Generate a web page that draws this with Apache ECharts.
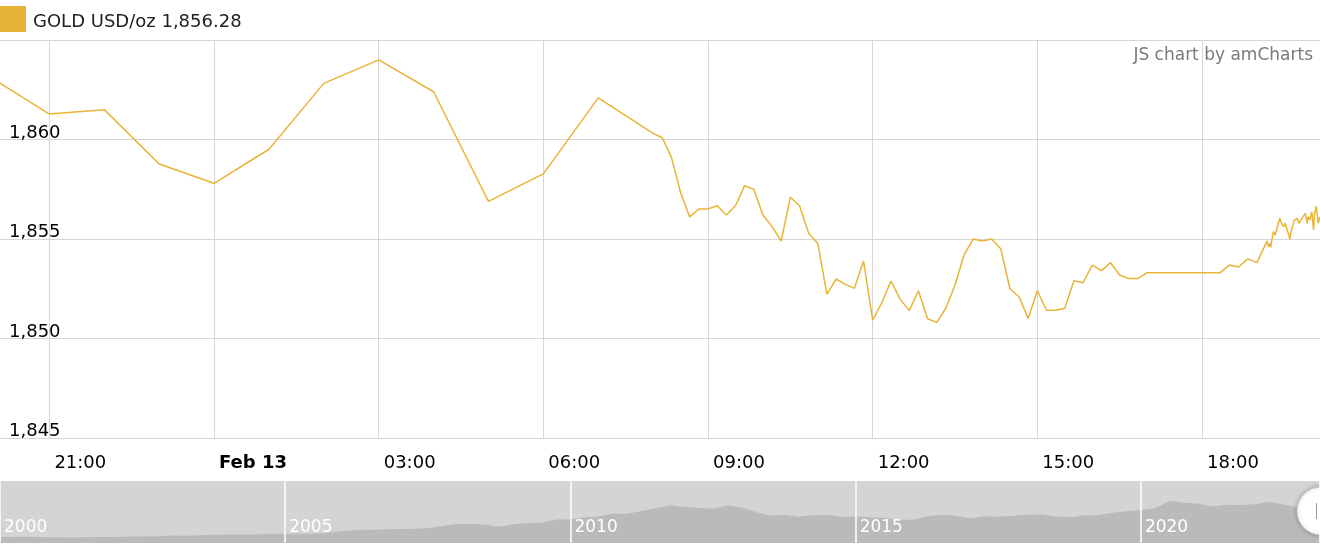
<!DOCTYPE html>
<html><head><meta charset="utf-8">
<script src="https://cdn.jsdelivr.net/npm/echarts@6/dist/echarts.min.js"></script>
<style>html,body{margin:0;padding:0;background:#fff}#c{width:1320px;height:552px}</style>
</head><body><div id="c"></div>
<script>
const seriesName = 'GOLD USD/oz 1,856.28';
const xTickTimes = ['Feb 12 21:00','Feb 13 00:00','Feb 13 03:00','Feb 13 06:00','Feb 13 09:00','Feb 13 12:00','Feb 13 15:00','Feb 13 18:00'];
const xTickLabels = ['21:00','Feb 13','03:00','06:00','09:00','12:00','15:00','18:00'];
const xRange = ['Feb 12 20:06','Feb 13 20:09'];
const yRange = [1845, 1865];

// hourly quotes, Feb 12 20:00 .. Feb 13 07:00
const hourlyStart = 'Feb 12 20:00';
const hourlyValues = [1863.00,1861.28,1861.50,1858.77,1857.80,1859.51,1862.82,1864.00,1862.40,1856.89,1858.27,1862.09];
// 10-minute quotes, Feb 13 08:00 .. 19:00
const tenMinStart = 'Feb 13 08:00';
const tenMinValues = [
 1860.31,1860.09,1859.10,1857.33,1856.11,1856.51,
 1856.51,1856.67,1856.21,1856.67,1857.68,1857.50,
 1856.21,1855.62,1854.90,1857.10,1856.67,1855.29,
 1854.78,1852.22,1852.99,1852.72,1852.52,1853.89,
 1850.93,1851.80,1852.89,1851.98,1851.40,1852.40,
 1850.99,1850.81,1851.52,1852.69,1854.22,1855.00,
 1854.90,1855.00,1854.51,1852.50,1852.10,1851.01,
 1852.40,1851.42,1851.42,1851.52,1852.90,1852.80,
 1853.69,1853.41,1853.81,1853.19,1853.01,1853.01,
 1853.31,1853.31,1853.31,1853.31,1853.31,1853.31,
 1853.31,1853.31,1853.31,1853.69,1853.59,1854.00,
 1853.81];
// live quotes after 19:10 (minute offsets)
const liveStart = 'Feb 13 19:10';
const liveOffsets = [0,1,3,4,5,8,10,12,15,16,17,19,21,23,25,26,27,29,31,34,36,38,41,43,45,46,48,50,52,53,54,55,57,59];
const liveValues = [1854.78,1854.90,1854.61,1854.78,1854.58,1855.37,1855.20,1855.29,1856.04,1856.12,1855.79,1855.62,1855.79,1855.45,1855.20,1854.98,1855.29,1855.25,1855.95,1856.04,1855.79,1855.87,1856.16,1856.29,1855.79,1856.12,1855.95,1856.37,1855.45,1856.29,1856.46,1856.63,1855.79,1856.12];

// navigator: quarterly gold price 2000 .. 2023
const navStartYear = 2000;
const navYearRange = [2000, 2023.14];
const navQuarterValues = [
 288,279,290,272, 266,257,270,279, 282,302,315,320, 352,340,360,385,
 400,395,400,440, 425,430,440,480, 550,610,620,630, 650,670,690,800,
 900,890,870,760, 880,930,950,1100, 1110,1200,1240,1380, 1370,1500,1620,1760,
 1680,1650,1600,1750, 1660,1450,1280,1320, 1230,1300,1320,1220, 1250,1200,1170,1110,
 1080,1250,1320,1270, 1160,1250,1230,1280, 1330,1330,1250,1200, 1290,1300,1410,1490,
 1540,1620,1960,1880, 1850,1710,1790,1780, 1810,1930,1800,1660, 1880];
const navLast = [2023.12, 1856];

const FONT = '"DejaVu Sans", Verdana, sans-serif';
function toMin(s) { // 'Feb 12 21:00' -> minutes since Feb 12 00:00
  const p = s.split(' '); const hm = p[2].split(':');
  return (parseInt(p[1]) - 12) * 1440 + parseInt(hm[0]) * 60 + parseInt(hm[1]);
}
const priceData = [];
hourlyValues.forEach((v, i) => priceData.push([toMin(hourlyStart) + i * 60, v]));
tenMinValues.forEach((v, i) => priceData.push([toMin(tenMinStart) + i * 10, v]));
liveValues.forEach((v, i) => priceData.push([toMin(liveStart) + liveOffsets[i], v]));
const tickMins = xTickTimes.map(toMin);
const navData = navQuarterValues.map((v, i) => [navStartYear + i * 0.25, v]);
navData.push(navLast);

const chart = echarts.init(document.getElementById('c'), null, {renderer: 'canvas'});
chart.setOption({
  animation: false,
  backgroundColor: '#fff',
  textStyle: {fontFamily: FONT},
  legend: {
    left: 0, top: 6, padding: 0, icon: 'rect', itemWidth: 26, itemHeight: 26,
    data: [seriesName],
    formatter: (name) => '{t|' + name + '}',
    textStyle: {
      fontFamily: FONT, fontSize: 18, color: '#222',
      rich: {t: {fontFamily: FONT, fontSize: 18, color: '#222', padding: [7,0,0,2]}}
    },
    selectedMode: false
  },
  graphic: [
    {type: 'text', right: 7, top: 47, style: {text: 'JS chart by amCharts', fontFamily: FONT, fontSize: 17, fill: '#7a7a7a'}},
    {type: 'circle', shape: {cx: 1321, cy: 511, r: 24}, style: {fill: '#fff', stroke: '#c8c8c8', lineWidth: 1, shadowBlur: 4, shadowColor: 'rgba(0,0,0,0.25)'}, z: 10},
    {type: 'line', shape: {x1: 1316.5, y1: 503, x2: 1316.5, y2: 519}, style: {stroke: '#999', lineWidth: 1}, z: 11}
  ],
  grid: [
    {left: 0, right: 0, top: 40, height: 398},
    {left: 0, right: 0, top: 481, height: 62, show: true, backgroundColor: '#d4d4d4', borderWidth: 0}
  ],
  xAxis: [
    {
      type: 'value', gridIndex: 0, min: toMin(xRange[0]), max: toMin(xRange[1]),
      axisLine: {show: false},
      axisTick: {show: false, customValues: tickMins},
      splitLine: {show: true, lineStyle: {color: '#d6d6d6', width: 1}},
      axisLabel: {
        customValues: tickMins, margin: 16, align: 'left', padding: [0,0,0,5],
        fontFamily: FONT, fontSize: 18, color: '#000',
        formatter: (v) => {
          const i = tickMins.indexOf(v);
          const t = i >= 0 ? xTickLabels[i] : '';
          return t.indexOf('Feb') === 0 ? '{b|' + t + '}' : t;
        },
        rich: {b: {fontFamily: FONT, fontSize: 18, fontWeight: 'bold', color: '#000'}}
      }
    },
    {
      type: 'value', gridIndex: 1, min: navYearRange[0], max: navYearRange[1], interval: 5, z: 10,
      axisLine: {show: false}, axisTick: {show: false},
      splitLine: {show: true, lineStyle: {color: '#ffffff', width: 1.5}},
      axisLabel: {
        inside: true, margin: 7, align: 'left', verticalAlign: 'bottom', padding: [0,0,0,4],
        showMinLabel: true, showMaxLabel: false,
        fontFamily: FONT, fontSize: 17, color: '#ffffff',
        formatter: (v) => String(Math.round(v))
      }
    }
  ],
  yAxis: [
    {
      type: 'value', gridIndex: 0, min: yRange[0], max: yRange[1], interval: 5,
      axisLine: {show: false}, axisTick: {show: false},
      splitLine: {show: true, lineStyle: {color: '#d6d6d6', width: 1}},
      axisLabel: {
        inside: true, margin: 9, verticalAlign: 'middle', showMaxLabel: false,
        fontFamily: FONT, fontSize: 18, color: '#000',
        formatter: (v) => '{a|' + v.toLocaleString('en-US') + '}',
        rich: {a: {fontFamily: FONT, fontSize: 18, color: '#000', padding: [0,0,13,0]}}
      }
    },
    {type: 'value', gridIndex: 1, min: 0, max: 2900, show: false, splitLine: {show: false}}
  ],
  series: [
    {
      name: seriesName, type: 'line', xAxisIndex: 0, yAxisIndex: 0, data: priceData,
      showSymbol: false, symbol: 'none', color: '#e8b437',
      itemStyle: {color: '#e8b437'},
      lineStyle: {color: '#e8b437', width: 1.5}, silent: true
    },
    {
      name: 'nav', type: 'line', xAxisIndex: 1, yAxisIndex: 1, data: navData, z: 1,
      showSymbol: false, symbol: 'none', silent: true,
      lineStyle: {width: 0}, areaStyle: {color: '#bababa', opacity: 1}
    }
  ]
});
</script></body></html>
